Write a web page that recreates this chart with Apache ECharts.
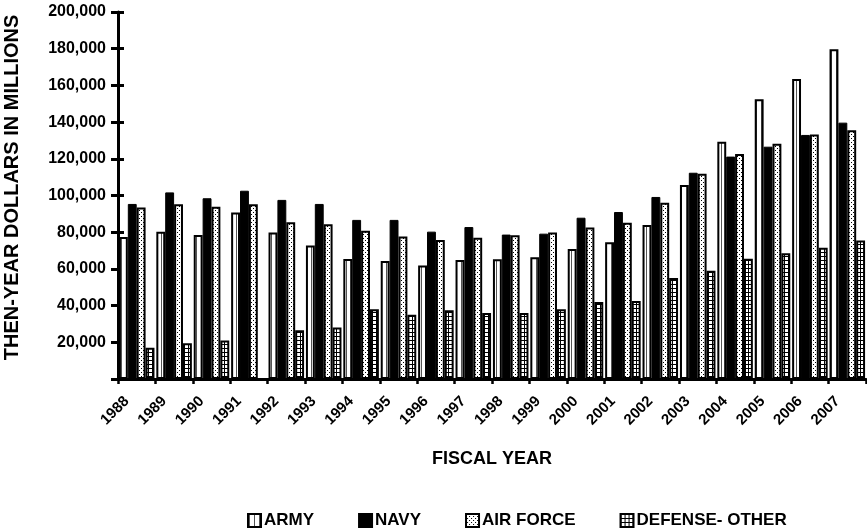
<!DOCTYPE html>
<html><head><meta charset="utf-8">
<script src="https://cdn.jsdelivr.net/npm/echarts@6/dist/echarts.min.js"></script>
<style>html,body{margin:0;padding:0;background:#fff}#c{width:867px;height:531px}</style>
</head><body><div id="c"></div>
<script>
const years = ['1988','1989','1990','1991','1992','1993','1994','1995','1996','1997','1998','1999','2000','2001','2002','2003','2004','2005','2006','2007'];
const army = [77400, 80300, 78500, 90800, 79800, 72700, 65400, 64300, 61800, 64900, 65200, 66300, 70900, 74500, 83900, 105700, 129300, 152400, 163500, 179700];
const navy = [95400, 101700, 98500, 102600, 97600, 95400, 86700, 86700, 80300, 82800, 78700, 79200, 87900, 91000, 99200, 112400, 121200, 126600, 133000, 139700];
const airForce = [93400, 95200, 93900, 95200, 85400, 84300, 80800, 77600, 75800, 77000, 78300, 79800, 82500, 85200, 96100, 111900, 122600, 128200, 133200, 135500];
const defenseOther = [17000, 19500, 21000, null, 26500, 28000, 38000, 35000, 37500, 36000, 36000, 38000, 42000, 42500, 55000, 59000, 65500, 68500, 71500, 75500];
const seriesNames = ['ARMY', 'NAVY', 'AIR FORCE', 'DEFENSE- OTHER'];

function pat(w, h, draw) {
  const c = document.createElement('canvas');
  c.width = w; c.height = h;
  const g = c.getContext('2d');
  g.fillStyle = '#fff'; g.fillRect(0, 0, w, h);
  g.fillStyle = '#000';
  draw(g);
  return { image: c, repeat: 'repeat' };
}
const dots = pat(4, 4, g => { g.fillRect(1, 0, 1, 1); g.fillRect(3, 2, 1, 1); });
const grid = pat(4, 4, g => { g.fillRect(0, 0, 4, 1); g.fillRect(0, 0, 1, 4); });
const stripes = pat(5, 4, g => { g.fillStyle = '#555'; g.fillRect(1, 0, 1, 4); });

const FONT = "'Liberation Sans', Arial, sans-serif";
const chart = echarts.init(document.getElementById('c'), null, { renderer: 'canvas' });
const barBase = { type: 'bar', barGap: '0%', barCategoryGap: '5%' };
chart.setOption({
  animation: false,
  backgroundColor: '#fff',
  textStyle: { fontFamily: FONT, fontWeight: 'bold', color: '#000' },
  grid: { left: 118, right: 1, top: 12, bottom: 152, outerBoundsMode: 'none', containLabel: false },
  legend: {
    left: 247, top: 512, padding: 0, itemWidth: 13, itemHeight: 13, itemGap: 44,
    icon: 'rect',
    textStyle: { fontFamily: FONT, fontWeight: 'bold', fontSize: 17, color: '#000', padding: [0, 0, 0, -2] },
    data: seriesNames
  },
  xAxis: {
    type: 'category', data: years,
    name: 'FISCAL YEAR', nameLocation: 'middle', nameGap: 71,
    nameTextStyle: { fontFamily: FONT, fontWeight: 'bold', fontSize: 18, color: '#000' },
    axisLine: { lineStyle: { color: '#000', width: 3 } },
    axisTick: { show: true, length: 5, lineStyle: { color: '#000', width: 2.5 } },
    axisLabel: { rotate: 45, interval: 0, margin: 10, padding: [0, 14, 0, 0], fontFamily: FONT, fontWeight: 'bold', fontSize: 15, color: '#000' },
    splitLine: { show: false }
  },
  yAxis: [{
    type: 'value', min: 0, max: 200000, interval: 20000,
    name: 'THEN-YEAR DOLLARS IN MILLIONS', nameLocation: 'middle', nameGap: 96,
    nameTextStyle: { fontFamily: FONT, fontWeight: 'bold', fontSize: 20, color: '#000', padding: [0, 0, 0, 16] },
    axisLine: { show: true, lineStyle: { color: '#000', width: 3 } },
    axisTick: { show: true, length: 7, lineStyle: { color: '#000', width: 3 } },
    axisLabel: { margin: 12, fontFamily: FONT, fontWeight: 'bold', fontSize: 16, color: '#000',
      formatter: v => v === 0 ? '' : v.toLocaleString('en-US') },
    splitLine: { show: false }
  }, {
    type: 'value', min: 0, max: 200000, interval: 20000, position: 'left', offset: 0,
    axisLine: { show: false },
    axisTick: { show: true, inside: true, length: 6, lineStyle: { color: '#000', width: 3 } },
    axisLabel: { show: false }, splitLine: { show: false }
  }],
  series: [
    Object.assign({}, barBase, { name: seriesNames[0], data: army,
      itemStyle: { color: stripes, borderColor: '#000', borderWidth: 2 } }),
    Object.assign({}, barBase, { name: seriesNames[1], data: navy,
      itemStyle: { color: '#000', borderColor: '#000', borderWidth: 1 } }),
    Object.assign({}, barBase, { name: seriesNames[2], data: airForce,
      itemStyle: { color: dots, borderColor: '#000', borderWidth: 2 } }),
    Object.assign({}, barBase, { name: seriesNames[3], data: defenseOther,
      itemStyle: { color: grid, borderColor: '#000', borderWidth: 2 } })
  ]
});
</script></body></html>
